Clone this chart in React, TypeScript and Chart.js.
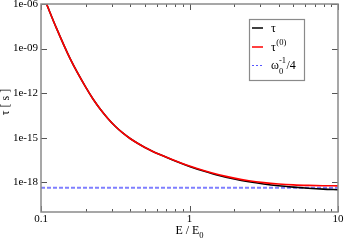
import React, { useEffect, useRef } from 'react';
import { Chart, registerables } from 'chart.js';

Chart.register(...registerables);

// ---- data ----
const energy = [0.109, 0.126, 0.158, 0.2, 0.224, 0.251, 0.282, 0.316, 0.355, 0.398, 0.447, 0.501, 0.562, 0.631, 0.794, 1, 1.26, 1.58, 2.0, 2.51, 3.16, 3.98, 5.01, 6.31, 7.94, 10];
const tauFull = [1.0e-6, 2.884e-8, 1.862e-10, 2.512e-12, 4.074e-13, 8.318e-14, 1.995e-14, 5.888e-15, 2.089e-15, 8.81e-16, 4.217e-16, 2.213e-16, 1.245e-16, 7.413e-17, 2.818e-17, 1.175e-17, 5.495e-18, 2.851e-18, 1.66e-18, 1.084e-18, 7.674e-19, 5.821e-19, 4.732e-19, 3.981e-19, 3.467e-19, 3.162e-19];
const tauZero = [1.0e-6, 2.884e-8, 1.862e-10, 2.512e-12, 4.074e-13, 8.318e-14, 1.995e-14, 5.888e-15, 2.089e-15, 8.81e-16, 4.217e-16, 2.213e-16, 1.245e-16, 7.413e-17, 2.951e-17, 1.259e-17, 6.026e-18, 3.199e-18, 1.905e-18, 1.274e-18, 9.441e-19, 7.674e-19, 6.683e-19, 6.166e-19, 5.888e-19, 5.754e-19];
const omegaEnergy = [0.1, 10];
const omegaQuarter = [4.3e-19, 4.3e-19];

const xTickValues = [0.1, 1, 10];
const xTickLabels = ['0.1', '1', '10'];
const yTickValues = [1e-18, 1e-15, 1e-12, 1e-9, 1e-6];
const yTickLabels = ['1e-18', '1e-15', '1e-12', '1e-09', '1e-06'];

const SERIF = "'Liberation Serif', 'DejaVu Serif', serif";

function pts(xs: number[], ys: number[]) {
  return xs.map((x, i) => ({ x, y: ys[i] }));
}

const decorPlugin = {
  id: 'decor',
  afterDraw(chart: any) {
    const { ctx, chartArea: a, scales } = chart;
    const xs = scales.x;
    const ys = scales.y;
    ctx.save();
    const seg = (x1: number, y1: number, x2: number, y2: number) => {
      ctx.beginPath();
      ctx.moveTo(x1, y1);
      ctx.lineTo(x2, y2);
      ctx.stroke();
    };
    // ticks (inward)
    ctx.strokeStyle = '#555';
    ctx.lineWidth = 1;
    for (let k = -1; k <= 1; k++) {
      for (let m = 1; m <= 9; m++) {
        const v = m * Math.pow(10, k);
        if (v > 10.0001) continue;
        const px = Math.round(xs.getPixelForValue(v)) + 0.5;
        const len = m === 1 ? 6 : 3;
        seg(px, a.bottom, px, a.bottom - len);
        seg(px, a.top, px, a.top + len);
      }
    }
    for (const v of yTickValues) {
      const py = Math.round(ys.getPixelForValue(v)) + 0.5;
      seg(a.left, py, a.left + 6, py);
      seg(a.right, py, a.right - 6, py);
    }
    // frame
    ctx.strokeStyle = '#8a8a8a';
    ctx.lineWidth = 1.5;
    ctx.strokeRect(a.left, a.top, a.right - a.left, a.bottom - a.top);

    // axis titles
    ctx.fillStyle = '#000';
    ctx.textBaseline = 'alphabetic';
    ctx.textAlign = 'left';
    const big = `12px ${SERIF}`;
    const small = `8.5px ${SERIF}`;
    // x title: E / E_0
    ctx.font = big;
    const main = 'E / E';
    const wMain = ctx.measureText(main).width;
    ctx.font = small;
    const wSub = ctx.measureText('0').width;
    const cx = (a.left + a.right) / 2;
    const x0 = cx - (wMain + wSub) / 2;
    ctx.font = big;
    ctx.fillText(main, x0, 233.5);
    ctx.font = small;
    ctx.fillText('0', x0 + wMain, 237.5);

    // y title
    ctx.save();
    ctx.translate(9, 102);
    ctx.rotate(-Math.PI / 2);
    ctx.font = big;
    ctx.textAlign = 'center';
    ctx.fillText('\u03c4 [ s ]', 0, 0);
    ctx.restore();

    // legend box
    ctx.fillStyle = '#fff';
    ctx.fillRect(249.5, 19.5, 55, 61);
    ctx.strokeStyle = '#8a8a8a';
    ctx.lineWidth = 1.2;
    ctx.strokeRect(249.5, 19.5, 55, 61);

    // entries
    ctx.lineWidth = 1.5;
    ctx.strokeStyle = '#000';
    seg(252, 28, 263, 28);
    ctx.strokeStyle = '#ff0000';
    seg(252, 47, 263, 47);
    ctx.strokeStyle = '#5555ff';
    ctx.lineWidth = 1;
    ctx.setLineDash([2, 2]);
    seg(252, 65.5, 263, 65.5);
    ctx.setLineDash([]);

    ctx.fillStyle = '#000';
    ctx.textAlign = 'left';
    ctx.font = big;
    ctx.fillText('\u03c4', 271, 32);
    ctx.fillText('\u03c4', 271, 50.5);
    const wt = ctx.measureText('\u03c4').width;
    ctx.font = small;
    ctx.fillText('(0)', 271 + wt + 0.5, 44.5);
    ctx.font = big;
    ctx.fillText('\u03c9', 271, 68.5);
    const ww = ctx.measureText('\u03c9').width;
    ctx.font = small;
    ctx.fillText('0', 271 + ww, 73.5);
    ctx.fillText('-1', 271 + ww, 62.5);
    const wm = ctx.measureText('-1').width;
    ctx.font = big;
    ctx.fillText('/4', 271 + ww + wm + 0.5, 68.5);

    ctx.restore();
  },
};

export default function App() {
  const ref = useRef<HTMLCanvasElement>(null);
  useEffect(() => {
    const canvas = ref.current;
    if (!canvas) return;
    const chart = new Chart(canvas, {
      type: 'line',
      data: {
        datasets: [
          {
            label: '\u03c4(0)',
            data: pts(energy, tauZero),
            borderColor: '#ff0000',
            borderWidth: 1.6,
            pointRadius: 0,
            cubicInterpolationMode: 'monotone',
            order: 0,
          },
          {
            label: '\u03c4',
            data: pts(energy, tauFull),
            borderColor: '#000000',
            borderWidth: 1.6,
            pointRadius: 0,
            cubicInterpolationMode: 'monotone',
            order: 1,
          },
          {
            label: '\u03c90^-1/4',
            data: pts(omegaEnergy, omegaQuarter),
            borderColor: '#7f7fff',
            borderWidth: 2,
            borderDash: [4, 2],
            pointRadius: 0,
            order: 2,
          },
        ],
      },
      options: {
        animation: false,
        responsive: false,
        maintainAspectRatio: false,
        layout: { padding: { left: 8, top: 4, right: 7, bottom: 0 } },
        plugins: { legend: { display: false }, tooltip: { enabled: false } },
        scales: {
          x: {
            type: 'logarithmic',
            min: 0.1,
            max: 10,
            grid: { display: false, drawTicks: false },
            border: { display: false },
            ticks: {
              font: { family: SERIF, size: 11 },
              color: '#000',
              padding: 1,
              autoSkip: false,
              maxRotation: 0,
              minRotation: 0,
              callback: (_v: any, i: number) => xTickLabels[i],
            },
            afterBuildTicks: (scale: any) => {
              scale.ticks = xTickValues.map((v) => ({ value: v }));
            },
            afterFit: (scale: any) => {
              scale.height = 28;
              scale.paddingLeft = 0;
              scale.paddingRight = 0;
            },
          },
          y: {
            type: 'logarithmic',
            min: 1e-20,
            max: 1e-6,
            grid: { display: false, drawTicks: false },
            border: { display: false },
            ticks: {
              font: { family: SERIF, size: 11 },
              color: '#000',
              padding: 3,
              autoSkip: false,
              callback: (_v: any, i: number) => yTickLabels[i],
            },
            afterBuildTicks: (scale: any) => {
              scale.ticks = yTickValues.map((v) => ({ value: v }));
            },
            afterFit: (scale: any) => {
              scale.width = 33;
              scale.paddingTop = 0;
              scale.paddingBottom = 0;
            },
          },
        },
      },
      plugins: [decorPlugin],
    } as any);
    return () => chart.destroy();
  }, []);
  return (
    <div style={{ position: 'fixed', left: 0, top: 0, width: 345, height: 240, background: '#fff' }}>
      <canvas ref={ref} width={345} height={240} style={{ display: 'block' }} />
    </div>
  );
}
